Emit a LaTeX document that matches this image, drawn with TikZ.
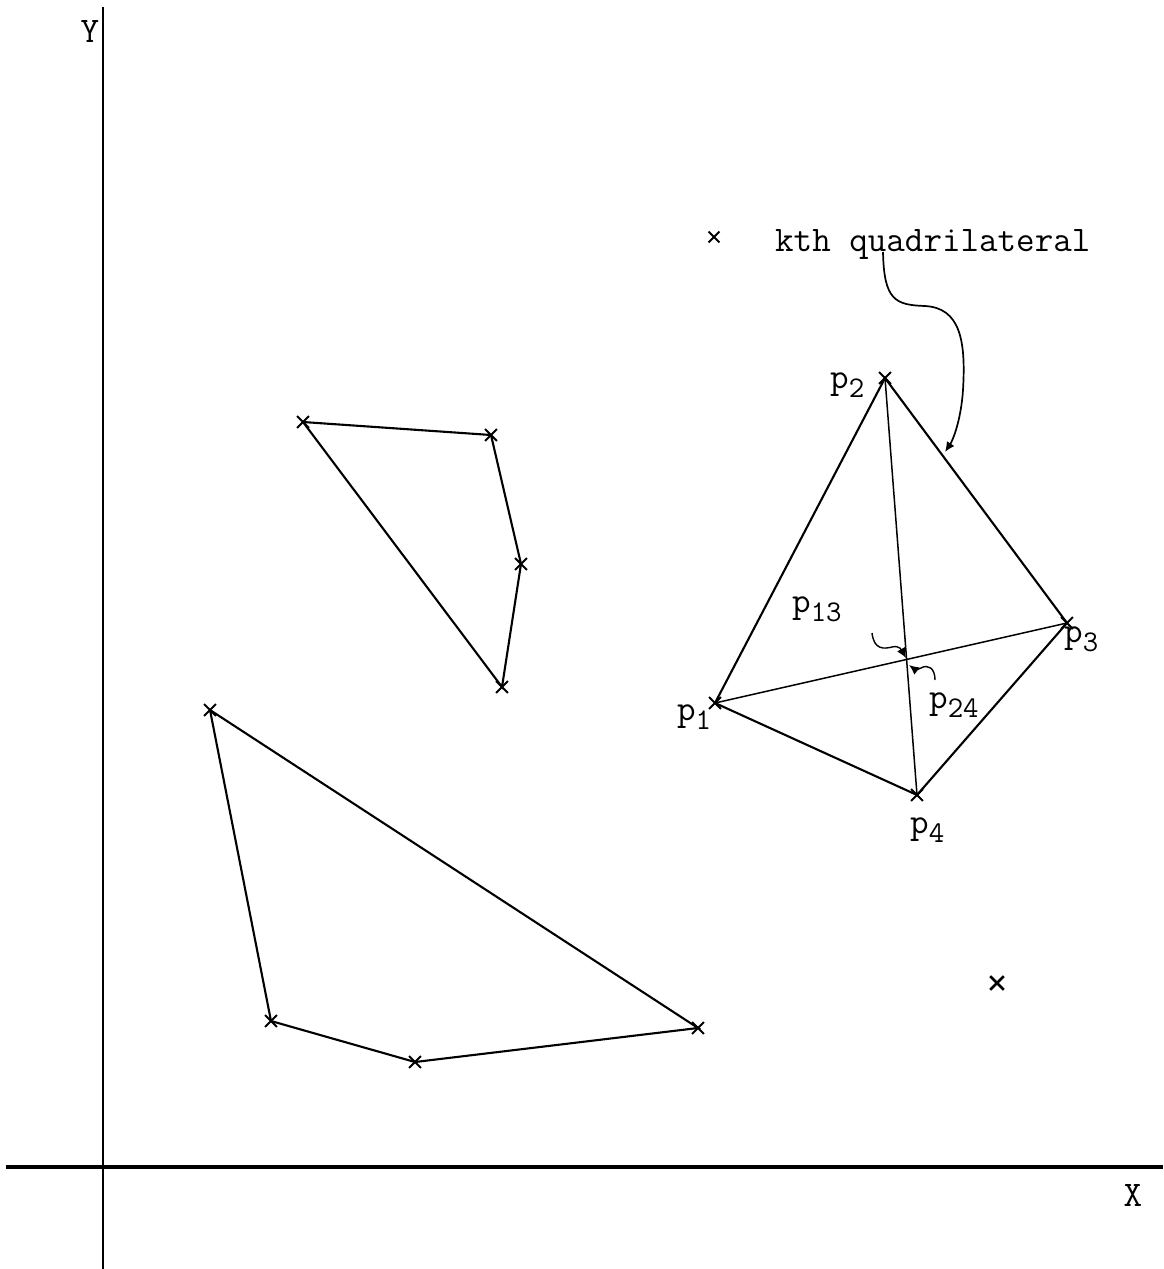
\documentclass[tikz,border=0pt]{standalone}
\usepackage{fontspec}
\usetikzlibrary{shapes.misc,arrows.meta}
\newcommand{\pidx}[1]{\raisebox{-9pt}{\fontsize{30}{34}\selectfont #1}}
\begin{document}
\begin{tikzpicture}[x=1pt,y=-1pt,
  vtx/.style={cross out,draw,minimum size=10pt,inner sep=0pt,line width=1.8pt},
  lone/.style={cross out,draw,minimum size=9pt,inner sep=0pt,line width=1.8pt},
  edge/.style={line width=2.1pt},
  diag/.style={line width=1.5pt},
  axis/.style={line width=2pt},
  lbl/.style={font=\fontsize{36}{40}\selectfont\ttfamily,inner sep=0pt,anchor=base west},
  ptr/.style={line width=1.7pt,-{Latex[length=10pt,width=9pt]}}]
\useasboundingbox (0,0) rectangle (1163,1269);
\fill[white] (0,0) rectangle (1163,1269);
% axes
\coordinate (ytop) at (103,7);
\coordinate (ybot) at (103,1269);
\coordinate (xleft) at (6,1167);
\coordinate (xright) at (1163,1167);
\draw[axis] (ytop) -- (ybot);
\draw[axis,line width=3.5pt] (xleft) -- (xright);
\node[lbl,anchor=center] (ylab) at (90,32) {Y};
\node[lbl,anchor=center] (xlab) at (1133,1195) {X};
% upper-left quadrilateral
\node[vtx] (a1) at (303,422) {};
\node[vtx] (a2) at (491,435) {};
\node[vtx] (a3) at (521,564) {};
\node[vtx] (a4) at (502,687) {};
\draw[edge] (a1.center) -- (a2.center) -- (a3.center) -- (a4.center) -- (a1.center);
% lower quadrilateral
\node[vtx] (b1) at (210,710) {};
\node[vtx] (b2) at (271,1021) {};
\node[vtx] (b3) at (415,1062) {};
\node[vtx] (b4) at (698,1028) {};
\draw[edge] (b1.center) -- (b2.center) -- (b3.center) -- (b4.center) -- (b1.center);
% kth quadrilateral
\node[vtx] (p1) at (715,703) {};
\node[vtx] (p2) at (885,378) {};
\node[vtx] (p3) at (1067,623) {};
\node[vtx] (p4) at (917,795) {};
\draw[edge] (p1.center) -- (p2.center) -- (p3.center) -- (p4.center) -- (p1.center);
\draw[diag] (p1.center) -- (p3.center);
\draw[diag] (p2.center) -- (p4.center);
% lone marks
\node[lone] (m1) at (714,237) {};
\node[lone,line width=2.6pt,minimum size=11pt] (m2) at (997,983) {};
% labels
\node[lbl] (kth) at (775,251) {kth quadrilateral};
\node[lbl] (l2) at (830,388) {p\pidx{2}};
\node[lbl] (l13) at (792,612) {p\pidx{13}};
\node[lbl] (l24) at (929,708) {p\pidx{24}};
\node[lbl] (l1) at (677,720) {p\pidx{1}};
\node[lbl] (l3) at (1064,642) {p\pidx{3}};
\node[lbl] (l4) at (910,833) {p\pidx{4}};
% pointers
\coordinate (ks) at (883,252);
\coordinate (kt) at (945,452);
\draw[ptr] (ks) .. controls (884,300) and (895,305) .. (925,306)
  .. controls (960,308) and (966,340) .. (963,390)
  .. controls (961,420) and (953,440) .. (kt);
\coordinate (s13) at (872,633);
\coordinate (t13) at (906,658);
\draw[ptr,line width=1.4pt] (s13) .. controls (874,650) and (884,649) .. (892,647)
  .. controls (900,645) and (902,651) .. (t13);
\coordinate (s24) at (935,680);
\coordinate (t24) at (909,665);
\draw[ptr,line width=1.4pt] (s24) .. controls (935,668) and (928,664) .. (921,668)
  .. controls (916,671) and (913,668) .. (t24);
\end{tikzpicture}
\end{document}
